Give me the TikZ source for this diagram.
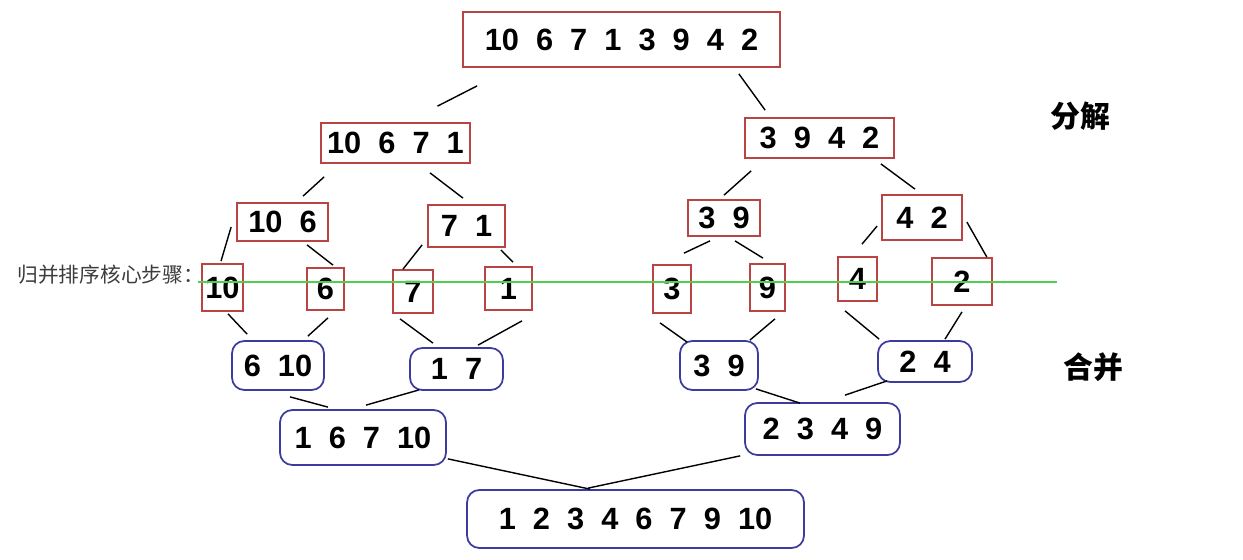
\documentclass[tikz,border=0pt]{standalone}
\usepackage{fontspec}
\setmainfont{Liberation Sans}
\newfontfamily\cjk{Noto Sans CJK SC}
\usepackage{tikz}
\definecolor{SortRed}{HTML}{B94444}
\definecolor{SortBlue}{HTML}{3C3CA0}
\definecolor{SortGreen}{HTML}{4FCF4F}
\definecolor{NoteGray}{HTML}{3C3C3C}
\tikzset{
  splitbox/.style={draw=SortRed, line width=1pt, inner sep=0pt,
    font=\bfseries\fontsize{17.5}{20}\selectfont},
  mergebox/.style={splitbox, draw=SortBlue, rounded corners=7pt},
  wh/.style 2 args={minimum width=#1cm, minimum height=#2cm},
  link/.style={line width=0.8pt},
}

\begin{document}
\begin{tikzpicture}[x=0.02cm, y=-0.02cm]
  \useasboundingbox (0,0) rectangle (1243,560);
  % split
  \node[splitbox, wh={6.34}{1.1}] (top) at (621.5,39.5) {10~~6~~7~~1~~3~~9~~4~~2};
  \node[splitbox, wh={2.98}{0.8}] (L1) at (395.5,143) {10~~6~~7~~1};
  \node[splitbox, wh={2.98}{0.8}] (R1) at (819.5,138) {3~~9~~4~~2};
  \node[splitbox, wh={1.82}{0.76}] (LL2) at (282.5,222) {10~~6};
  \node[splitbox, wh={1.54}{0.84}] (LR2) at (466.5,226) {7~~1};
  \node[splitbox, wh={1.44}{0.72}] (RL2) at (724,218) {3~~9};
  \node[splitbox, wh={1.6}{0.9}] (RR2) at (922,217.5) {4~~2};
  \node[splitbox, wh={0.82}{0.94}] (s10) at (222.5,287.5) {10};
  \node[splitbox, wh={0.74}{0.84}] (s6) at (325.5,289) {6};
  \node[splitbox, wh={0.8}{0.86}] (s7) at (413,291.5) {7};
  \node[splitbox, wh={0.94}{0.86}] (s1) at (508.5,288.5) {1};
  \node[splitbox, wh={0.76}{0.96}] (s3) at (672,289) {3};
  \node[splitbox, wh={0.7}{0.94}] (s9) at (767.5,287.5) {9};
  \node[splitbox, wh={0.78}{0.88}] (s4) at (857.5,279) {4};
  \node[splitbox, wh={1.2}{0.94}] (s2) at (962,281.5) {2};
  % merge
  \node[mergebox, wh={1.84}{0.98}] (m610) at (278,365.5) {6~~10};
  \node[mergebox, wh={1.86}{0.84}] (m17) at (456.5,369) {1~~7};
  \node[mergebox, wh={1.56}{0.98}] (m39) at (719,365.5) {3~~9};
  \node[mergebox, wh={1.88}{0.82}] (m24) at (925,361.5) {2~~4};
  \node[mergebox, wh={3.32}{1.1}] (mL) at (363,437.5) {1~~6~~7~~10};
  \node[mergebox, wh={3.1}{1.04}] (mR) at (822.5,429) {2~~3~~4~~9};
  \node[mergebox, wh={6.74}{1.16}] (done) at (635.5,519) {1~~2~~3~~4~~6~~7~~9~~10};

  \foreach \a/\ax/\ay/\b/\bx/\by in {
      top.south west/15/18/L1.north/42/-16, top.south east/-42/6/R1.north west/21/-7,
      L1.south west/4/13/LL2.north/20.5/-6, L1.south/34.5/9/LR2.north/-3.5/-6,
      R1.south west/7/12/RL2.north/0/-4, R1.south east/-14/5/RR2.north/-7/-5,
      LL2.west/-5/5/s10.north/-1.5/-2, LL2.south/24.5/3/s6.north/7.5/-2,
      LR2.south west/-5/-3/s7.north/-10/0, LR2.south east/-5/2/s1.north/4.5/-4,
      RL2.south/-14/4/s3.north/12/-11, RL2.south/11/4/s9.north/-4.5/-5,
      RR2.west/-4/8.5/s4.north/4.5/-12, RR2.east/4/4.5/s2.north east/-6/0,
      s10.south/5.5/2/m610.north west/16/-6, s6.south/2.5/7/m610.north east/-17/-4,
      s7.south/-13/5/m17.north/-23.5/-4, s1.south/13.5/10/m17.north/21.5/-2,
      s3.south/-12/9/m39.north west/8/2, s9.south/7.5/7/m39.north east/-9/0,
      s4.south/-12.5/9/m24.north west/2/-1, s2.south/0/6/m24.north/20/-1,
      m610.south/12/6/mL.north/-35/-2, m17.south west/10/-1/mL.north/3/-4,
      m39.south east/-3/-2/mR.north/-22.5/1, m24.south west/10/-2/mR.north/22.5/-7,
      mL.south east/1/-7/done.north/-45.5/0, mR.south west/-4/0/done.north/-47.5/-1}
    \draw[link] ([shift={(\ax,\ay)}]\a) -- ([shift={(\bx,\by)}]\b);

  \node[font=\cjk\bfseries\fontsize{17}{20}\selectfont] (fenjie) at (1080,116) {分解};
  \node[font=\cjk\bfseries\fontsize{17}{20}\selectfont] (hebing) at (1093,367) {合并};
  \node[anchor=west, inner sep=0pt, text=NoteGray, font=\cjk\fontsize{11.8}{14}\selectfont]
    (note) at (17,275) {归并排序核心步骤：};
  \draw[SortGreen, line width=1.1pt] (198,282) coordinate (g0) -- (1057,282) coordinate (g1);
\end{tikzpicture}
\end{document}
